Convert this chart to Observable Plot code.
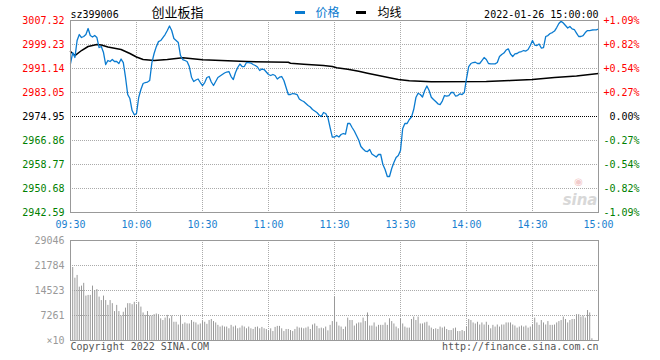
<!DOCTYPE html>
<html><head><meta charset="utf-8">
<script src="https://cdn.jsdelivr.net/npm/d3@7"></script>
<script src="https://cdn.jsdelivr.net/npm/@observablehq/plot@0.6"></script>
<style>
html,body{margin:0;padding:0;background:#fff;}
#wrap{position:relative;width:660px;height:360px;overflow:hidden;}
#main{position:absolute;left:0;top:0;}
#vol{position:absolute;left:0;top:232px;}
.leg{position:absolute;height:3px;width:10px;top:11px;}
</style></head><body>
<div id="wrap"><div id="main"></div><div id="vol"></div>
<div class="leg" style="left:295px;background:#0a7bd0"></div>
<div class="leg" style="left:356px;background:#000"></div>
</div>
<script>
// ---- data ----
const symbol = "sz399006";
const title = "创业板指";
const legendPrice = "价格";
const legendAvg = "均线";
const stamp = "2022-01-26 15:00:00";
const prevClose = 2974.95;
const priceTicks = [3007.32, 2999.23, 2991.14, 2983.05, 2974.95, 2966.86, 2958.77, 2950.68, 2942.59];
const pctLabels = ["+1.09%", "+0.82%", "+0.54%", "+0.27%", "0.00%", "-0.27%", "-0.54%", "-0.82%", "-1.09%"];
const xTickMinutes = [0, 30, 60, 90, 120, 150, 180, 210, 240];
const xTickLabels = ["09:30", "10:00", "10:30", "11:00", "11:30", "13:30", "14:00", "14:30", "15:00"];
const volTicks = [29046, 21784, 14523, 7261, 0];
const volTickLabels = ["29046", "21784", "14523", "7261", "×10"];

// price per trading minute (0 = 09:30 ... 240 = 15:00)
const prices = [
2992.82,2996.52,2994.84,3000.57,3002.59,3001.58,3001.92,3002.59,3004.61,3002.25,
3001.75,3002.25,3001.58,2998.21,2998.55,2996.52,2992.48,2993.83,2993.49,2994.16,
2993.49,2993.49,2992.82,2994.33,2993.15,2988.20,2982.37,2981.02,2976.97,2975.52,
2975.96,2981.35,2984.05,2986.07,2986.41,2986.58,2987.08,2993.15,2996.19,2998.50,
3000.20,3000.57,3001.58,3002.59,3003.94,3005.46,3003.94,3001.24,3000.57,2999.89,
2995.51,2994.16,2993.83,2993.49,2991.80,2988.20,2986.75,2987.25,2987.59,2986.41,
2985.40,2986.41,2988.10,2988.43,2986.58,2985.40,2986.75,2988.10,2988.60,2989.11,
2989.61,2989.95,2990.12,2988.43,2987.42,2989.78,2991.47,2992.65,2991.80,2991.80,
2993.15,2993.15,2992.98,2992.48,2992.14,2991.64,2990.46,2990.96,2990.79,2989.95,
2989.11,2988.77,2989.11,2988.77,2987.59,2988.20,2988.43,2987.08,2984.73,2982.37,
2982.37,2982.70,2982.60,2982.37,2980.85,2980.34,2980.01,2979.33,2978.66,2978.15,
2977.31,2976.80,2976.30,2975.46,2974.95,2976.30,2975.96,2974.61,2971.24,2967.97,
2968.04,2968.55,2968.04,2968.88,2969.22,2969.05,2972.59,2972.59,2971.24,2970.06,
2968.55,2967.03,2964.84,2964.00,2963.32,2963.15,2963.83,2962.31,2961.80,2961.30,
2962.14,2962.14,2958.77,2957.08,2954.73,2954.73,2957.42,2959.44,2961.13,2961.80,
2963.49,2970.91,2972.59,2972.59,2973.94,2974.78,2977.31,2981.35,2982.80,2982.37,
2981.52,2983.71,2985.23,2983.71,2981.46,2980.68,2980.01,2979.23,2978.99,2980.17,
2982.03,2981.86,2982.03,2983.04,2983.04,2981.86,2982.03,2982.60,2982.37,2983.04,
2987.76,2991.80,2992.82,2993.15,2993.25,2992.82,2992.82,2993.83,2994.84,2994.16,
2992.82,2992.71,2992.71,2992.71,2993.15,2995.17,2995.85,2996.35,2997.36,2997.77,
2996.02,2995.17,2996.08,2996.19,2996.69,2996.86,2997.20,2997.03,2997.53,2998.88,
3000.57,2999.05,2998.88,2999.39,2998.04,2998.21,3001.92,3002.25,3002.93,3003.26,
3003.77,3004.95,3006.30,3007.08,3006.47,3005.62,3004.78,3005.29,3004.51,3004.28,
3003.09,3001.92,3001.92,3002.25,3003.26,3003.94,3003.94,3004.11,3004.18,3004.18,
3004.45
];

// average line readings
const avgMinutes = [0, 2, 5, 8, 12, 14, 17, 23, 27, 30, 33, 38, 44, 51, 60, 80, 99, 100, 106, 115, 119, 121, 126, 131, 135, 140, 145, 149, 154, 164, 189, 200, 210, 220, 230, 240];
const avgValues = [2996.86, 2995.51, 2997.20, 2998.55, 2999.22, 2999.05, 2998.38, 2997.53, 2996.19, 2995.01, 2994.16, 2993.83, 2994.16, 2994.74, 2994.06, 2993.49, 2993.25, 2992.91, 2992.57, 2992.14, 2991.80, 2991.37, 2990.89, 2990.22, 2989.55, 2988.77, 2987.99, 2987.42, 2986.98, 2986.65, 2986.75, 2987.08, 2987.42, 2988.10, 2988.60, 2989.44];

// volume per trading minute
const volumes = [
29046,21200,18100,18900,15500,15800,16600,12900,13100,13100,
15800,14500,14800,12600,11600,12900,11600,10200,11600,10700,
8400,10200,8400,7100,8200,9400,10700,10700,10400,11100,
10200,11100,9700,8000,7300,8400,7100,7100,7500,7700,
7500,6300,5800,6500,7300,6300,7100,5300,5300,4500,
7300,4700,5100,4800,4800,5800,5300,5100,4500,4800,
5500,5300,4700,5800,6100,5500,5100,4400,3900,4200,
3900,3900,3400,4400,3900,4200,3400,3600,4200,3900,
3400,3900,3400,3200,3800,3900,3400,3800,3400,3200,
2800,3400,2600,3800,4100,4100,3400,2600,3200,3200,
2900,2600,3200,3900,3600,3600,3400,3600,3900,3200,
4500,4800,4100,3400,3600,3400,3900,2800,4400,5500,
12600,5300,4200,3900,3200,3900,6500,5800,5800,4200,
4800,5100,5100,6500,5500,8000,4200,4200,5100,3900,
4400,4400,4400,5100,4400,6300,5500,4800,3900,3400,
6300,4800,3900,3600,3600,6100,6800,5800,6800,4800,
4800,5100,5300,4200,3600,3200,3400,3200,3900,3600,
3900,3200,2900,2900,3400,3600,2600,2600,2900,2600,
3900,6100,5800,5100,4800,5300,4500,5100,4500,5300,
4400,3400,4400,3900,4500,3900,4500,4500,5100,5100,
5100,4500,4200,3600,3900,4200,3900,4200,3600,3900,
4500,6500,5100,4400,5800,5100,4500,5500,4400,4400,
4500,5100,5500,5800,6800,6100,5100,5800,6100,6100,
7500,7500,6800,7100,6500,8700,8000,500,0,0,
0
];

// ---- styles ----
const mono = "DejaVu Sans Mono";
const cjk = "Noto Sans CJK SC";
const blue = "#0a7bd0";
const labelBlue = "#1a7fd0";
const gridGray = "#aaa";
const frameGray = "#999";
const sideColor = d => d > prevClose ? "#ff0000" : d < prevClose ? "#008000" : "#000000";
const pctIndex = new Map(priceTicks.map((d, i) => [d, pctLabels[i]]));

const mainChart = Plot.plot({
  width: 660, height: 232,
  marginLeft: 70, marginRight: 62, marginTop: 20, marginBottom: 20,
  x: {domain: [0, 240], axis: null},
  y: {domain: [2942.59, 3007.32], axis: null},
  color: {type: "identity"},
  style: {fontFamily: mono, fontSize: "10px", background: "transparent", overflow: "visible"},
  marks: [
    Plot.ruleY(priceTicks.filter(d => d !== prevClose), {stroke: gridGray, strokeDasharray: "1,1"}),
    Plot.ruleX(xTickMinutes.slice(1, -1), {stroke: gridGray, strokeDasharray: "1,1"}),
    Plot.ruleY([prevClose], {stroke: "#000", strokeDasharray: "1,1"}),
    Plot.line(avgMinutes, {x: d => d, y: (d, i) => avgValues[i], stroke: "#000", strokeWidth: 1.5}),
    Plot.line(prices, {x: (d, i) => i, y: d => d, stroke: blue, strokeWidth: 1.3}),
    Plot.text(["◉"], {text: d => d, frameAnchor: "bottom-right", textAnchor: "middle", dx: -20, dy: -28, fill: "#f2caca", fontSize: 10, fontFamily: "DejaVu Sans"}),
    Plot.text(["sina"], {text: d => d, frameAnchor: "bottom-right", textAnchor: "end", lineAnchor: "bottom", dx: -1, dy: -8, fill: "#d8d8d8", fontWeight: "bold", fontStyle: "italic", fontSize: 15, fontFamily: "DejaVu Sans"}),
    Plot.frame({stroke: frameGray}),
    Plot.text(priceTicks, {y: d => d, text: d => d.toFixed(2), frameAnchor: "left", textAnchor: "end", dx: -6, fill: sideColor}),
    Plot.text(priceTicks.filter(d => d !== prevClose), {y: d => d, text: d => pctIndex.get(d), frameAnchor: "right", textAnchor: "start", dx: 5, fill: sideColor}),
    Plot.text([prevClose], {y: d => d, text: d => pctIndex.get(d), frameAnchor: "right", textAnchor: "start", dx: 11, fill: sideColor}),
    Plot.text(xTickMinutes, {x: d => d, text: (d, i) => xTickLabels[i], frameAnchor: "bottom", lineAnchor: "top", dy: 8, fill: labelBlue}),
    Plot.text([symbol], {text: d => d, frameAnchor: "top-left", textAnchor: "start", lineAnchor: "bottom", dy: -3, fill: "#000"}),
    Plot.text([title], {text: d => d, frameAnchor: "top-left", textAnchor: "middle", lineAnchor: "bottom", dx: 107, dy: -3.5, fontFamily: cjk, fontSize: 13, fill: "#000"}),
    Plot.text([legendPrice], {text: d => d, frameAnchor: "top-left", textAnchor: "start", lineAnchor: "bottom", dx: 245, dy: -4, fontFamily: cjk, fontSize: 12, fill: blue}),
    Plot.text([legendAvg], {text: d => d, frameAnchor: "top-left", textAnchor: "start", lineAnchor: "bottom", dx: 307, dy: -4, fontFamily: cjk, fontSize: 12, fill: "#000"}),
    Plot.text([stamp], {text: d => d, frameAnchor: "top-right", textAnchor: "end", lineAnchor: "bottom", dy: -3, fill: "#000"})
  ]
});
document.getElementById("main").appendChild(mainChart);

const volChart = Plot.plot({
  width: 660, height: 128,
  marginLeft: 70, marginRight: 62, marginTop: 8, marginBottom: 20,
  x: {domain: [0, 240], axis: null},
  y: {domain: [0, 29046], axis: null},
  style: {fontFamily: mono, fontSize: "10px", background: "transparent", overflow: "visible"},
  marks: [
    Plot.ruleY(volTicks.slice(1, -1), {stroke: gridGray, strokeDasharray: "1,1"}),
    Plot.ruleX(xTickMinutes.slice(1, -1), {stroke: gridGray, strokeDasharray: "1,1"}),
    Plot.ruleX(volumes, {x: (d, i) => i, y1: 0, y2: d => d, stroke: "#999"}),
    Plot.frame({stroke: frameGray}),
    Plot.text(volTicks, {y: d => d, text: (d, i) => volTickLabels[i], frameAnchor: "left", textAnchor: "end", dx: -6, fill: "#999"}),
    Plot.text(["Copyright 2022 SINA.COM"], {text: d => d, frameAnchor: "bottom-left", textAnchor: "start", lineAnchor: "top", dy: 2, fill: "#555"}),
    Plot.text(["http://finance.sina.com.cn"], {text: d => d, frameAnchor: "bottom-right", textAnchor: "end", lineAnchor: "top", dy: 2, fill: "#555"})
  ]
});
document.getElementById("vol").appendChild(volChart);
</script>
</body></html>
